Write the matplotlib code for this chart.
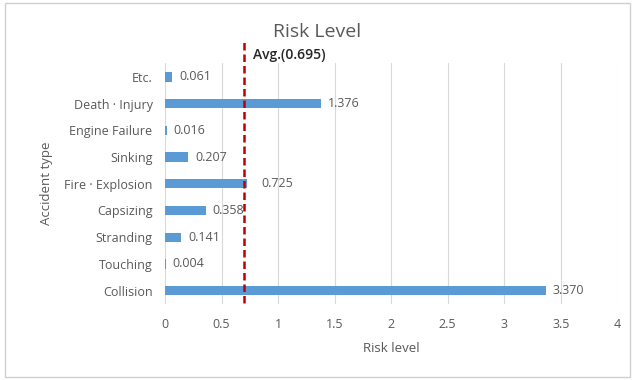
import matplotlib.pyplot as plt
from matplotlib.patches import Rectangle

# accident types, bottom to top
categories = ["Collision", "Touching", "Stranding", "Capsizing", "Fire · Explosion",
              "Sinking", "Engine Failure", "Death · Injury", "Etc."]
risk = [3.370, 0.004, 0.141, 0.358, 0.725, 0.207, 0.016, 1.376, 0.061]
avg_risk = 0.695
xticks = [0, 0.5, 1, 1.5, 2, 2.5, 3, 3.5, 4]

grey = "#595959"
plt.rcParams["font.family"] = ["Open Sans", "DejaVu Sans"]

fig = plt.figure(figsize=(6.35, 3.8), dpi=100)
ax = fig.add_axes([0.26, 0.2, 0.712, 0.633])

# chart frame
fig.patches.append(Rectangle((0.008, 0.008), 0.984, 0.984, transform=fig.transFigure,
                             fill=False, edgecolor="#D0D0D0", linewidth=1))

ypos = range(len(categories))
ax.barh(ypos, risk, height=0.35, color="#5B9BD5", zorder=2)

for y, v in zip(ypos, risk):
    dx = 10 if v == 0.725 else 5
    ax.annotate(f"{v:.3f}", (v, y), xytext=(dx, 0), textcoords="offset points",
                va="center", ha="left", fontsize=9, color=grey, zorder=3)

# average reference line
ax.plot([avg_risk, avg_risk], [-0.45, 9.4], color="#C00000", linestyle=(0, (3, 1.6)),
        linewidth=1.8, clip_on=False, zorder=4)
ax.text(avg_risk + 0.08, 8.8, "Avg.(0.695)", fontsize=10, fontweight="semibold",
        color="#262626", va="center", ha="left")

ax.set_xlim(0, 4)
ax.set_ylim(-0.5, 8.5)
ax.set_xticks(xticks)
ax.set_xticklabels([f"{t:g}" for t in xticks])
ax.set_yticks(list(ypos))
ax.set_yticklabels(categories)
ax.tick_params(length=0, labelsize=9, labelcolor=grey)
ax.tick_params(axis="x", pad=10)
ax.tick_params(axis="y", pad=9)
ax.grid(axis="x", color="#D9D9D9", linewidth=0.8, zorder=0)
ax.set_axisbelow(True)
for s in ax.spines.values():
    s.set_visible(False)

ax.set_xlabel("Risk level", fontsize=9.5, color=grey, labelpad=8)
ax.set_ylabel("Accident type", fontsize=9.5, color=grey, labelpad=8)
fig.text(0.5, 0.915, "Risk Level", fontsize=14, color=grey, ha="center", va="center")

fig.savefig("out.png", dpi=100)
